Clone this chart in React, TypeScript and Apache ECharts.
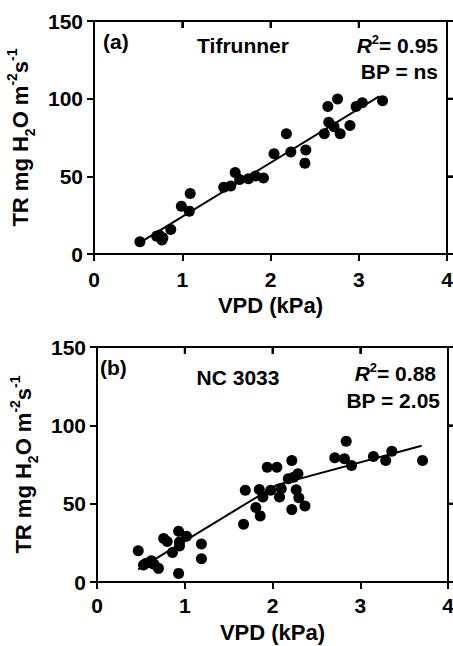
import React, { useEffect, useRef } from "react";
import * as echarts from "echarts";

const xTicks = [0, 1, 2, 3, 4];
const yTicks = [0, 50, 100, 150];

const tifrunnerVpd = [0.52, 0.71, 0.77, 0.74, 0.78, 0.87, 0.99, 1.09, 1.08, 1.47, 1.55, 1.6, 1.65, 1.75, 1.83, 1.92, 2.04, 2.18, 2.23, 2.4, 2.39, 2.61, 2.66, 2.65, 2.76, 2.72, 2.79, 2.9, 2.97, 3.04, 3.27];
const tifrunnerTr = [7.9, 11.5, 9, 12, 10.5, 15.8, 30.8, 38.9, 27.6, 43, 43.8, 52.4, 47.9, 48.5, 50.2, 48.9, 64.5, 77.4, 65.6, 67, 58.5, 77.4, 84.8, 94.9, 99.8, 82, 77.4, 82.7, 94.9, 97.4, 98.7];
const tifrunnerFitVpd = [0.52, 3.23];
const tifrunnerFitTr = [7.3, 101.5];

const nc3033Vpd = [0.47, 0.53, 0.56, 0.62, 0.65, 0.7, 0.76, 0.8, 0.86, 0.93, 0.94, 0.94, 1.02, 0.93, 1.19, 1.19, 1.67, 1.69, 1.81, 1.86, 1.85, 1.89, 1.94, 2.05, 1.98, 2.1, 2.08, 2.22, 2.18, 2.24, 2.29, 2.27, 2.3, 2.22, 2.37, 2.71, 2.84, 2.82, 2.9, 3.15, 3.29, 3.36, 3.71];
const nc3033Tr = [19.9, 10.8, 11.9, 13.5, 11.4, 8.7, 27.8, 25.9, 18.9, 32.4, 25.6, 23, 29.2, 5.5, 24.2, 14.9, 36.9, 58.5, 47.5, 42.2, 59.1, 54.2, 73.3, 73.3, 58.5, 59.6, 54.2, 77.6, 65.9, 66.9, 69.1, 58.9, 53.8, 46.2, 48.5, 79.3, 89.8, 78.6, 74.4, 80.1, 77.6, 83.5, 77.6];
const nc3033FitVpd = [0.47, 2.05, 3.7];
const nc3033FitTr = [8.1, 62, 87];

const FONT = "'Liberation Sans', Arial, Helvetica, sans-serif";
const INK = "#000";

const zip = (a: number[], b: number[]) => a.map((v, i) => [v, b[i]]);

const yName = "TR mg H{sub|2}O m{sup|-2}s{sup|-1}";
const yNameRich = {
  sub: { fontSize: 14, fontWeight: "bold", fontFamily: FONT, color: INK, verticalAlign: "bottom", lineHeight: 14, padding: [0, 0, -6, 0] },
  sup: { fontSize: 14, fontWeight: "bold", fontFamily: FONT, color: INK, verticalAlign: "top", lineHeight: 14, padding: [-4, 0, 0, 0] },
};

const r2Rich = {
  it: { fontSize: 21, fontWeight: "bold", fontStyle: "italic", fontFamily: FONT, fill: INK, color: INK },
  sup: { fontSize: 13, fontWeight: "bold", fontFamily: FONT, fill: INK, color: INK, verticalAlign: "top", lineHeight: 12, padding: [-2, 0, 0, 0] },
  n: { fontSize: 21, fontWeight: "bold", fontFamily: FONT, fill: INK, color: INK },
};

function annot(text: string, x: number, y: number, align: string, rich?: any) {
  return {
    type: "text", x, y, silent: true,
    style: {
      text, x: 0, y: 0, fill: INK,
      font: `bold 21px ${FONT}`,
      fontSize: 21, fontWeight: "bold", fontFamily: FONT,
      align, textAlign: align, verticalAlign: "middle", textVerticalAlign: "middle",
      rich,
    },
  };
}

function buildOption(p: {
  grid: { left: number; top: number; width: number; height: number };
  yGap: number; xLabelMargin: number; xNameGap: number;
  vpd: number[]; tr: number[]; fitVpd: number[]; fitTr: number[];
  texts: any[];
}) {
  const lineStyle = () => ({ color: INK, width: 2 });
  const tickStyle = () => ({ color: INK, width: 2 });
  return {
    animation: false,
    grid: [{ ...p.grid, show: true, borderColor: INK, borderWidth: 2, containLabel: false, outerBoundsMode: "none" }],
    xAxis: [
      {
        gridIndex: 0, type: "value", min: 0, max: 4, interval: 1, position: "bottom",
        axisLine: { show: true, onZero: false, lineStyle: lineStyle() },
        axisTick: { show: true, length: 7, inside: false, lineStyle: tickStyle() },
        axisLabel: { fontSize: 21, fontWeight: "bold", fontFamily: FONT, color: INK, margin: p.xLabelMargin },
        splitLine: { show: false },
        name: "VPD (kPa)", nameLocation: "middle", nameGap: p.xNameGap,
        nameTextStyle: { fontSize: 22, fontWeight: "bold", fontFamily: FONT, color: INK },
      },
      {
        gridIndex: 0, type: "value", min: 0, max: 4, interval: 1, position: "top",
        axisLine: { show: true, onZero: false, lineStyle: lineStyle() },
        axisTick: { show: true, length: 7, inside: true, lineStyle: tickStyle() },
        axisLabel: { show: false }, splitLine: { show: false },
      },
    ],
    yAxis: [
      {
        gridIndex: 0, type: "value", min: 0, max: 150, interval: 50, position: "left",
        axisLine: { show: true, onZero: false, lineStyle: lineStyle() },
        axisTick: { show: true, length: 7, inside: false, lineStyle: tickStyle() },
        axisLabel: { fontSize: 21, fontWeight: "bold", fontFamily: FONT, color: INK, margin: 11 },
        splitLine: { show: false },
        name: yName, nameLocation: "middle", nameGap: p.yGap, nameRotate: 90,
        nameTextStyle: { fontSize: 22, fontWeight: "bold", fontFamily: FONT, color: INK, rich: yNameRich },
      },
      {
        gridIndex: 0, type: "value", min: 0, max: 150, interval: 50, position: "right",
        axisLine: { show: true, onZero: false, lineStyle: lineStyle() },
        axisTick: { show: true, length: 6, inside: false, lineStyle: tickStyle() },
        axisLabel: { show: false }, splitLine: { show: false },
      },
    ],
    series: [
      { type: "scatter", xAxisIndex: 1, yAxisIndex: 1, data: [], silent: true },
      { type: "scatter", xAxisIndex: 0, yAxisIndex: 0, data: zip(p.vpd, p.tr), symbolSize: 11, itemStyle: { color: INK, opacity: 1 } },
      { type: "line", xAxisIndex: 0, yAxisIndex: 0, data: zip(p.fitVpd, p.fitTr), symbol: "none", lineStyle: { color: INK, width: 2 } },
    ],
    graphic: p.texts,
  };
}

// Frame and top/right ticks drawn from the chart's own scales.
function addFrame(chart: any, texts: any[]) {
  try {
    const finder = { xAxisIndex: 0, yAxisIndex: 0 };
    const tl = chart.convertToPixel(finder, [xTicks[0], yTicks[yTicks.length - 1]]);
    const br = chart.convertToPixel(finder, [xTicks[xTicks.length - 1], yTicks[0]]);
    if (!tl || !br) return;
    const stroke = { stroke: INK, lineWidth: 2, fill: "none" };
    const els: any[] = [
      { type: "rect", silent: true, z: 50, shape: { x: tl[0], y: tl[1], width: br[0] - tl[0], height: br[1] - tl[1] }, style: { ...stroke } },
    ];
    xTicks.slice(1, -1).forEach((v) => {
      const px = chart.convertToPixel(finder, [v, yTicks[0]])[0];
      els.push({ type: "line", silent: true, z: 50, shape: { x1: px, y1: tl[1], x2: px, y2: tl[1] + 7 }, style: { stroke: INK, lineWidth: 2 } });
    });
    yTicks.slice(1, -1).forEach((v) => {
      const py = chart.convertToPixel(finder, [xTicks[0], v])[1];
      els.push({ type: "line", silent: true, z: 50, shape: { x1: br[0], y1: py, x2: br[0] + 6, y2: py }, style: { stroke: INK, lineWidth: 2 } });
    });
    chart.setOption({ graphic: [...texts, ...els] }, { replaceMerge: ["graphic"] });
  } catch (e) {
    // keep chart as is
  }
}

export default function App() {
  const refA = useRef<HTMLDivElement>(null);
  const refB = useRef<HTMLDivElement>(null);
  useEffect(() => {
    if (!refA.current || !refB.current) return;
    const chartA = echarts.init(refA.current, undefined, { renderer: "svg" });
    const chartB = echarts.init(refB.current, undefined, { renderer: "svg" });
    const textsA = [
      annot("(a)", 103, 41, "left"),
      annot("Tifrunner", 243, 45, "center"),
      annot("{it|R}{sup|2}{n|= 0.95}", 438, 45, "right", r2Rich),
      annot("BP = ns", 438, 71, "right"),
    ];
    const textsB = [
      annot("(b)", 100, 44, "left"),
      annot("NC 3033", 238, 54, "center"),
      annot("{it|R}{sup|2}{n|= 0.88}", 436, 50, "right", r2Rich),
      annot("BP = 2.05", 440, 77, "right"),
    ];
    chartA.setOption(buildOption({
      grid: { left: 94, top: 21, width: 353, height: 233 },
      yGap: 62, xLabelMargin: 15, xNameGap: 37,
      vpd: tifrunnerVpd, tr: tifrunnerTr, fitVpd: tifrunnerFitVpd, fitTr: tifrunnerFitTr,
      texts: textsA,
    }));
    chartB.setOption(buildOption({
      grid: { left: 97, top: 24, width: 351, height: 235 },
      yGap: 54, xLabelMargin: 13, xNameGap: 39,
      vpd: nc3033Vpd, tr: nc3033Tr, fitVpd: nc3033FitVpd, fitTr: nc3033FitTr,
      texts: textsB,
    }));
    addFrame(chartA, textsA);
    addFrame(chartB, textsB);
    return () => {
      chartA.dispose();
      chartB.dispose();
    };
  }, []);
  return (
    <div style={{ position: "absolute", left: 0, top: 0, width: 453, height: 646 }}>
      <div ref={refA} style={{ position: "absolute", left: 0, top: 0, width: 453, height: 323 }} />
      <div ref={refB} style={{ position: "absolute", left: 0, top: 323, width: 453, height: 323 }} />
    </div>
  );
}
